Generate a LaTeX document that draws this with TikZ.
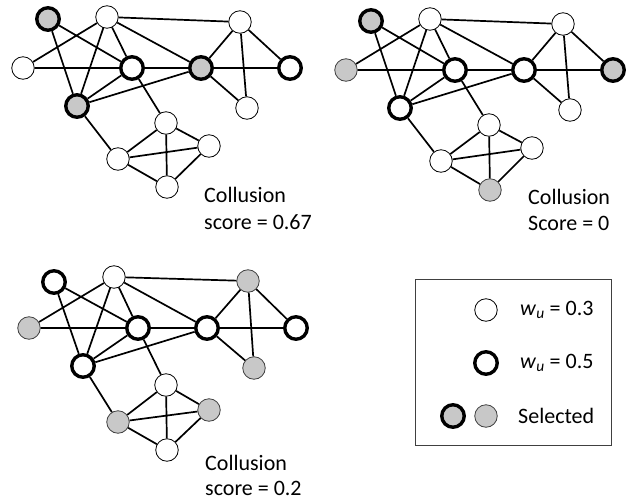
\documentclass[tikz,border=0pt]{standalone}
\usepackage{fontspec}
\setmainfont{Carlito}
\definecolor{selgray}{RGB}{200,200,200}
\begin{document}
\begin{tikzpicture}[x=1pt,y=-1pt,
  nd/.style={circle,draw=black,line width=0.8pt,fill=white,minimum size=22.5pt,inner sep=0pt},
  wn/.style={nd},
  tk/.style={nd,line width=3.4pt},
  gy/.style={nd,fill=selgray,draw=black!75},
  tg/.style={nd,fill=selgray,line width=3.4pt},
  edge/.style={line width=1.7pt},
  lbl/.style={anchor=base west,inner sep=0pt,font=\fontsize{22}{26}\selectfont}]
\useasboundingbox (0,0) rectangle (641,501);
\newcommand\netedges{%
  \draw[edge] (A)--(E) (A)--(H) (B)--(D) (B)--(H) (B)--(E) (B)--(F) (B)--(C)
    (C)--(F) (C)--(G) (C)--(I) (D)--(E) (E)--(F) (F)--(G) (E)--(H) (F)--(H)
    (F)--(I) (E)--(J) (H)--(K) (J)--(K) (J)--(L) (J)--(M) (K)--(L) (K)--(M) (L)--(M);}
\newcommand\wu{\textit{w}\textsubscript{\textit{u}}}
% graph 1
\begin{scope}[name prefix=g1-]
\node[tg] (A) at (48,19) {};
\node[wn] (B) at (107,17) {};
\node[wn] (C) at (240,22) {};
\node[wn] (D) at (23,68) {};
\node[tk] (E) at (132,68) {};
\node[tg] (F) at (201,68) {};
\node[tk] (G) at (290,68) {};
\node[tg] (H) at (77,106) {};
\node[wn] (I) at (247,108) {};
\node[wn] (J) at (166,123) {};
\node[wn] (K) at (118,159) {};
\node[wn] (L) at (209,146) {};
\node[wn] (M) at (167,187) {};
\netedges
\node[lbl] (t1) at (204,202) {Collusion};
\node[lbl] (s1) at (204,229) {score = 0.67};
\end{scope}
% graph 2
\begin{scope}[name prefix=g2-]
\node[tg] (A) at (371,21) {};
\node[wn] (B) at (430,19) {};
\node[wn] (C) at (563,24) {};
\node[gy] (D) at (346,70) {};
\node[tk] (E) at (455,70) {};
\node[tk] (F) at (524,70) {};
\node[tg] (G) at (613,70) {};
\node[tk] (H) at (400,108) {};
\node[wn] (I) at (570,110) {};
\node[wn] (J) at (489,125) {};
\node[wn] (K) at (441,161) {};
\node[wn] (L) at (532,148) {};
\node[gy] (M) at (490,190) {};
\netedges
\node[lbl] (t2) at (528,204) {Collusion};
\node[lbl] (s2) at (528,230) {Score = 0};
\end{scope}
% graph 3
\begin{scope}[name prefix=g3-]
\node[tk] (A) at (54,282) {};
\node[wn] (B) at (114,277) {};
\node[gy] (C) at (248,281) {};
\node[gy] (D) at (29,328) {};
\node[tk] (E) at (138,328) {};
\node[tk] (F) at (207,328) {};
\node[tk] (G) at (296,328) {};
\node[tk] (H) at (83,366) {};
\node[gy] (I) at (254,368) {};
\node[wn] (J) at (166,385) {};
\node[gy] (K) at (118,422) {};
\node[gy] (L) at (209,410) {};
\node[wn] (M) at (167,450) {};
\netedges
\node[lbl] (t3) at (205,470) {Collusion};
\node[lbl] (s3) at (205,495) {score = 0.2};
\end{scope}
% legend
\node[draw=black!75,line width=1pt,minimum width=196pt,minimum height=166pt,inner sep=0pt,anchor=north west] (box) at (415,279) {};
\node[wn] (lw) at (486,310) {};
\node[tk] (lt) at (486,363) {};
\node[tg] (ls1) at (453,416) {};
\node[gy] (ls2) at (486,416) {};
\node[lbl,anchor=west] (lwt) at (520,310) {\wu\ = 0.3};
\node[lbl,anchor=west] (ltt) at (520,363) {\wu\ = 0.5};
\node[lbl,anchor=west] (lst) at (518,416) {Selected};
\end{tikzpicture}
\end{document}
